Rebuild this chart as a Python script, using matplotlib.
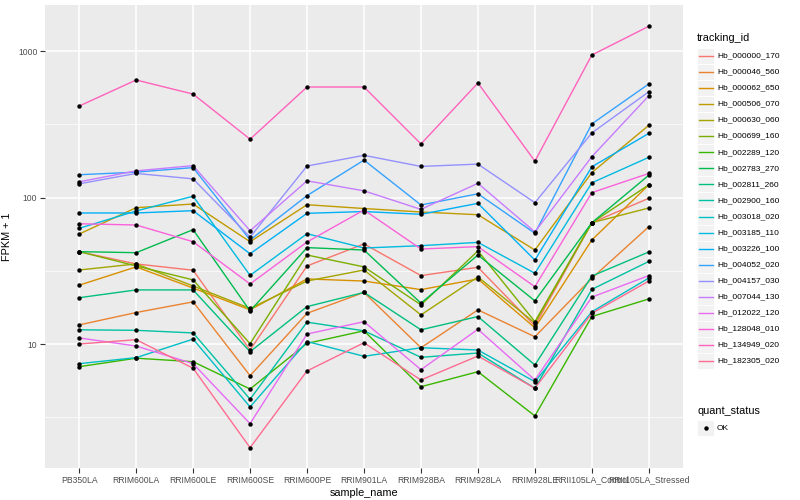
import matplotlib
matplotlib.use('Agg')
import matplotlib.pyplot as plt
import numpy as np
from matplotlib.patches import Rectangle
from matplotlib.lines import Line2D

plt.rcParams['font.family'] = ['Liberation Sans', 'DejaVu Sans']

samples = ["PB350LA", "RRIM600LA", "RRIM600LE", "RRIM600SE", "RRIM600PE", "RRIM901LA",
           "RRIM928BA", "RRIM928LA", "RRIM928LE", "RRII105LA_Control", "RRII105LA_Stressed"]

tracking_ids = ["Hb_000000_170", "Hb_000046_560", "Hb_000062_650", "Hb_000506_070",
                "Hb_000630_060", "Hb_000699_160", "Hb_002289_120", "Hb_002783_270",
                "Hb_002811_260", "Hb_002900_160", "Hb_003018_020", "Hb_003185_110",
                "Hb_003226_100", "Hb_004052_020", "Hb_004157_030", "Hb_007044_130",
                "Hb_012022_120", "Hb_128048_010", "Hb_134949_020", "Hb_182305_020"]

# FPKM + 1 values, one list per gene (order of samples above)
hb_000000_170 = [42.7, 35.2, 31.9, 9.1, 34.1, 48.2, 29.3, 33.4, 13.3, 67.3, 98.8]
hb_000046_560 = [13.5, 16.4, 19.4, 6.08, 16.2, 22.5, 9.43, 17.1, 11.2, 28.1, 63.2]
hb_000062_650 = [25.2, 33.6, 24.1, 17.1, 27.8, 26.9, 23.5, 27.8, 12.9, 51.3, 122]
hb_000506_070 = [56.3, 85.2, 90.3, 49.9, 89.3, 84.1, 79.6, 76.3, 43.8, 148, 311]
hb_000630_060 = [32.0, 35.2, 24.9, 17.5, 26.9, 32.0, 15.8, 28.7, 13.9, 67.3, 84.8]
hb_000699_160 = [42.7, 34.1, 27.4, 10.05, 40.5, 33.6, 18.5, 43.2, 14.2, 67.3, 122]
hb_002289_120 = [7.0, 8.0, 7.57, 4.93, 10.1, 12.3, 5.11, 6.47, 3.23, 15.4, 20.3]
hb_002783_270 = [42.7, 42.0, 60.3, 16.8, 45.5, 43.8, 19.0, 40.5, 19.7, 67.3, 142]
hb_002811_260 = [20.7, 23.4, 23.4, 8.86, 18.0, 22.5, 12.5, 15.4, 7.19, 29.1, 42.5]
hb_002900_160 = [12.5, 12.4, 11.9, 4.2, 14.1, 12.3, 8.11, 8.68, 4.99, 23.6, 36.6]
hb_003018_020 = [7.34, 8.07, 10.8, 3.72, 10.4, 8.24, 9.43, 9.1, 5.53, 16.6, 28.2]
hb_003185_110 = [61.6, 80.9, 102, 29.4, 56.6, 45.2, 46.9, 49.4, 30.4, 126, 188]
hb_003226_100 = [78.4, 78.4, 81.3, 41.3, 78.0, 80.2, 76.8, 91.2, 37.4, 162, 274]
hb_004052_020 = [143, 149, 160, 51.3, 103, 180, 88.9, 106, 57, 318, 596]
hb_004157_030 = [124, 146, 134, 53.7, 164, 194, 163, 169, 92.2, 276, 527]
hb_007044_130 = [128, 152, 165, 59.3, 130, 111, 83, 125, 58.2, 190, 495]
hb_012022_120 = [11.0, 9.69, 7.34, 2.86, 11.7, 14.2, 6.68, 12.6, 5.68, 20.9, 29.3]
hb_128048_010 = [66.2, 64.9, 49.9, 25.7, 49.7, 82.2, 44.5, 46.2, 24.6, 108, 146]
hb_134949_020 = [421, 634, 508, 250, 568, 568, 232, 605, 177, 939, 1475]
hb_182305_020 = [10.0, 10.7, 6.83, 1.96, 6.55, 10.2, 5.68, 8.28, 4.99, 16.2, 26.9]

series = [hb_000000_170, hb_000046_560, hb_000062_650, hb_000506_070, hb_000630_060,
          hb_000699_160, hb_002289_120, hb_002783_270, hb_002811_260, hb_002900_160,
          hb_003018_020, hb_003185_110, hb_003226_100, hb_004052_020, hb_004157_030,
          hb_007044_130, hb_012022_120, hb_128048_010, hb_134949_020, hb_182305_020]

colors = ["#F8766D", "#EA8331", "#D89000", "#C09B00", "#A3A500", "#7CAE00", "#39B600",
          "#00BB4E", "#00BF7D", "#00C1A3", "#00BFC4", "#00BAE0", "#00B0F6", "#35A2FF",
          "#9590FF", "#C77CFF", "#E76BF3", "#FA62DB", "#FF62BC", "#FF6C91"]

W, H = 800, 500
fig = plt.figure(figsize=(8, 5), dpi=100)
ax = fig.add_axes([45 / W, 32 / H, 638 / W, 463 / H])
ax.set_facecolor('#EBEBEB')
for s in ax.spines.values():
    s.set_visible(False)

x = np.arange(len(samples))
for vals, c in zip(series, colors):
    ax.plot(x, vals, color=c, lw=1.0, zorder=3, solid_capstyle='butt')
for vals in series:
    ax.plot(x, vals, 'o', color='black', ms=3.2, zorder=4, markeredgewidth=0)

ax.set_yscale('log')
ax.set_ylim(10 ** 0.1536, 10 ** 3.314)
ax.set_xlim(-0.6, len(samples) - 0.4)
ax.set_yticks([10, 100, 1000])
ax.set_yticklabels(['10', '100', '1000'])
ax.set_yticks([10 ** 0.5, 10 ** 1.5, 10 ** 2.5], minor=True)
ax.yaxis.set_minor_formatter(matplotlib.ticker.NullFormatter())
ax.set_xticks(x)
ax.set_xticklabels(samples)
ax.grid(True, which='major', color='white', lw=1.1, zorder=1)
ax.grid(True, which='minor', axis='y', color='white', lw=0.5, zorder=1)
ax.set_axisbelow(True)
ax.tick_params(axis='both', which='major', length=3.5, width=0.8, color='#333333',
               labelsize=6.2, labelcolor='#4D4D4D', pad=2)
ax.tick_params(axis='y', which='minor', length=0)
ax.set_xlabel('sample_name', fontsize=7.8, labelpad=2.5)
ax.set_ylabel('FPKM + 1', fontsize=7.8, labelpad=4)

def fx(px):
    return px / W

def fy(py):
    return 1 - py / H

# legend: tracking_id
fig.text(fx(697), fy(38), 'tracking_id', fontsize=7.8, ha='left', va='center')
for i, (name, c) in enumerate(zip(tracking_ids, colors)):
    yc = 56 + i * 16.05
    fig.add_artist(Rectangle((fx(697), fy(yc + 8)), 17 / W, 16 / H, transform=fig.transFigure,
                             facecolor='#F2F2F2', edgecolor='white', lw=0.6))
    fig.add_artist(Line2D([fx(698.5), fx(712.5)], [fy(yc), fy(yc)], transform=fig.transFigure,
                          color=c, lw=1.0))
    fig.text(fx(717), fy(yc), name, fontsize=6.0, ha='left', va='center')

# legend: quant_status
fig.text(fx(697), fy(411), 'quant_status', fontsize=7.8, ha='left', va='center')
fig.add_artist(Rectangle((fx(697), fy(436)), 17 / W, 16 / H, transform=fig.transFigure,
                         facecolor='#F2F2F2', edgecolor='white', lw=0.6))
fig.add_artist(Line2D([fx(705.5)], [fy(428)], transform=fig.transFigure, marker='o',
                      color='black', ms=3.2, markeredgewidth=0, linestyle='none'))
fig.text(fx(717), fy(428), 'OK', fontsize=6.0, ha='left', va='center')

fig.savefig('out.png', dpi=100)
